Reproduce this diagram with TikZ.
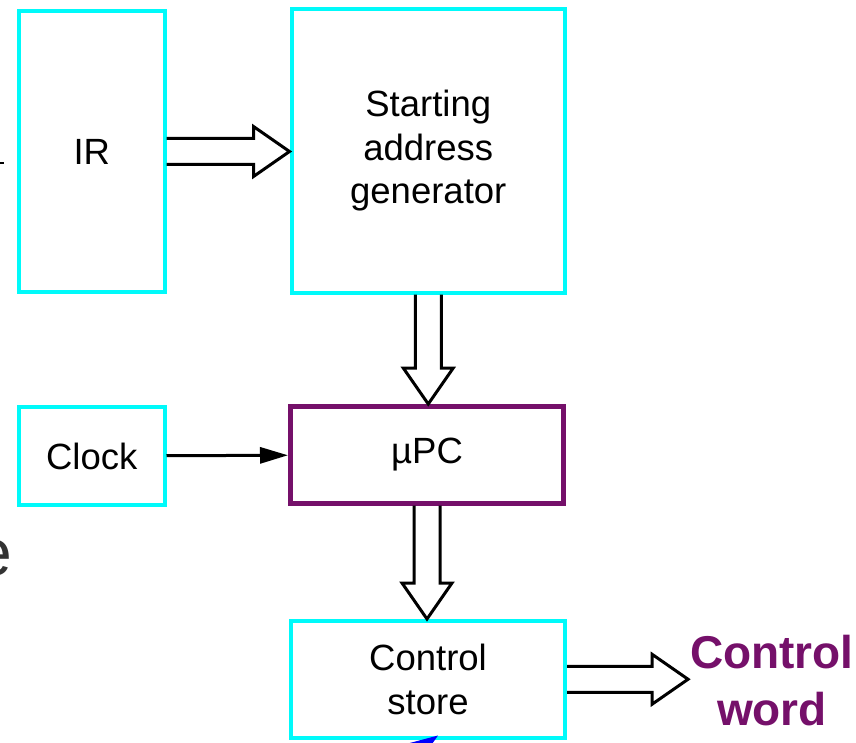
\documentclass[tikz,border=0pt]{standalone}
\usepackage{fontspec}
\setmainfont{Liberation Sans}
\usetikzlibrary{calc,arrows.meta}
\definecolor{boxcyan}{RGB}{0,250,250}
\definecolor{upcpurple}{RGB}{117,16,106}
\newcommand{\lbltext}{\fontsize{36.5}{43.5}\selectfont}
\newcommand{\wordtext}{\bfseries\fontsize{46}{57}\selectfont}
\begin{document}
\begin{tikzpicture}
[x=1pt,y=-1pt,
 blk/.style={draw=boxcyan,line width=4pt,inner sep=0pt,align=center,font=\lbltext},
 busr/.style={draw,line width=3pt,to path={($(\tikztostart)+(0,-13)$) -- ($(\tikztotarget |- \tikztostart)+(-36,-13)$)
   -- ($(\tikztotarget |- \tikztostart)+(-36,-25)$) -- (\tikztotarget |- \tikztostart)
   -- ($(\tikztotarget |- \tikztostart)+(-36,25)$)
   -- ($(\tikztotarget |- \tikztostart)+(-36,13)$) -- ($(\tikztostart)+(0,13)$)}},
 busd/.style={draw,line width=3pt,to path={($(\tikztostart)+(-13,0)$) -- ($(\tikztotarget -| \tikztostart)+(-13,-36)$)
   -- ($(\tikztotarget -| \tikztostart)+(-25,-36)$) -- (\tikztotarget -| \tikztostart)
   -- ($(\tikztotarget -| \tikztostart)+(25,-36)$)
   -- ($(\tikztotarget -| \tikztostart)+(13,-36)$) -- ($(\tikztostart)+(13,0)$)}}]
   \useasboundingbox (0,0) rectangle (856,743);
   \node[blk,minimum width=145.5pt,minimum height=281pt] (ir) at (91.75,151.5) {IR};
   \node[blk,minimum width=273.5pt,minimum height=283.5pt] (sag) at (428.25,150.75) {Starting\\address\\generator};
   \node[blk,minimum width=145.5pt,minimum height=98pt] (clock) at (91.75,456) {Clock};
   \node[blk,draw=upcpurple,line width=5pt,minimum width=273pt,minimum height=96.5pt] (upc) at (427,454.75) {µPC};
   \node[blk,minimum width=274pt,minimum height=116.5pt] (cs) at (428,679.25) {Control\\store};
   \node[inner sep=2pt,align=center,font=\wordtext,text=upcpurple] (cw) at (772,680.5) {Control\\word};
   \node[inner sep=0pt,anchor=base east,font=\fontsize{66}{66}\selectfont,text=black!80] (e) at (12,575) {e};
    \path[busr] (ir.east) to (sag.west);
    \path[busd] (sag.south) to (upc.north);
    \path[busd] (upc.south) to (cs.north);
    \path[busr] (cs.east) to (cw.west);
    \draw[line width=3pt,-{Triangle[length=28pt,width=16pt]}] (clock) -- (upc);
    \draw[line width=2pt] (-2,163) -- (4,163);
    \fill[blue] (406,744) -- (438,735.5) -- (432,744) -- cycle;

\end{tikzpicture}
\end{document}
